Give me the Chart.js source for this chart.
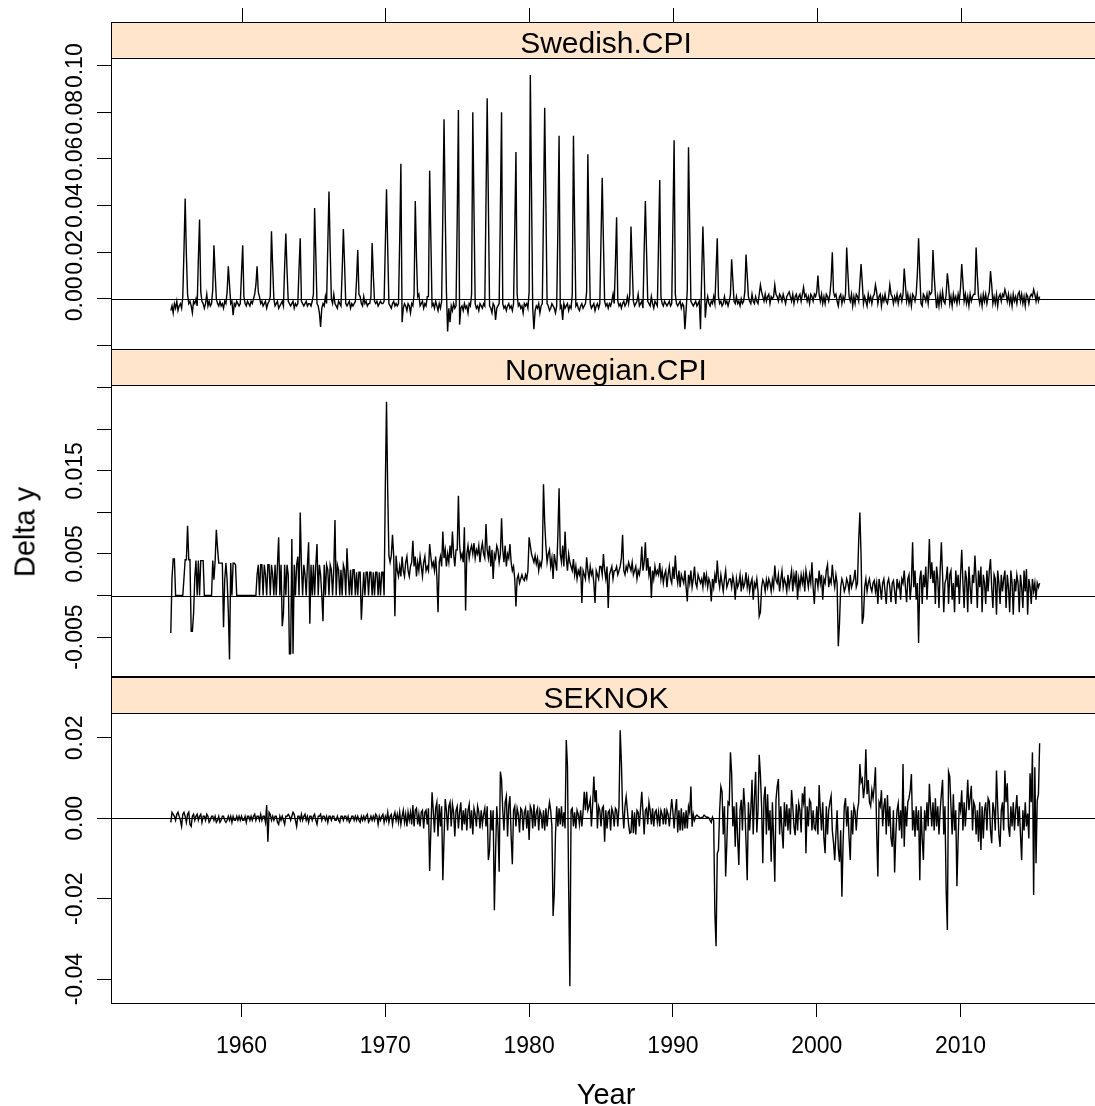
<!DOCTYPE html>
<html>
<head>
<meta charset="utf-8">
<title>Delta y by year</title>
<script src="https://cdn.jsdelivr.net/npm/chart.js@4.4.1/dist/chart.umd.min.js"></script>
<style>
  html, body { margin: 0; padding: 0; background: #fff; overflow: hidden; }
  #wrap { position: relative; width: 1095px; height: 1106px; }
  #wrap canvas { position: absolute; left: 0; top: 0; }
  .axis-title {
    position: absolute;
    font-family: "Liberation Sans", Arial, sans-serif;
    font-size: 29px;
    line-height: 29px;
    color: #000;
    white-space: nowrap;
  }
  #ytitle { left: 25px; top: 532px; transform: translate(-50%, -50%) rotate(-90deg); }
  #xtitle { left: 606px; top: 1094px; transform: translate(-50%, -50%); }
</style>
</head>
<body>
<div id="wrap">
  <canvas id="c1" width="1095" height="1106"></canvas>
  <canvas id="c2" width="1095" height="1106"></canvas>
  <canvas id="c3" width="1095" height="1106"></canvas>
  <div class="axis-title" id="ytitle">Delta y</div>
  <div class="axis-title" id="xtitle">Year</div>
</div>
<script>
// monthly series, one row per year starting Jan 1955
const startYear = 1955;

const swedishCPI = [
  [null, -.005, -.003, -.006, -.002, -.004, -.001, -.005, -.003, -.002, -.004, .001], // 1955
  [.021, .043, .019, .002, -.002, -.001, -.003, -.006, -.001, -.002, 0, -.003],
  [.017, .034, .003, -.001, -.002, -.004, -.002, .002, -.003, -.001, -.003, -.002],
  [.004, .023, .011, 0, -.002, -.003, -.001, -.003, -.002, -.004, -.001, -.002],
  [.003, .014, .006, -.002, -.001, -.007, -.002, -.003, -.001, -.002, -.003, -.002],
  [.011, .023, .001, -.002, -.003, -.001, -.002, -.003, -.001, -.002, 0, .002], // 1960
  [.006, .014, .003, .001, -.002, -.001, -.003, -.002, -.001, -.004, -.002, -.001],
  [.001, .029, .014, 0, -.003, -.002, -.001, -.004, -.003, -.002, -.001, -.003],
  [.014, .028, .012, -.001, -.002, -.003, -.002, -.001, -.004, -.002, -.003, -.002],
  [.013, .026, -.001, -.002, -.003, -.002, -.001, -.003, -.002, -.002, -.003, -.001],
  [.002, .039, .019, -.002, -.003, -.006, -.012, -.004, -.002, -.003, .001, -.002],
  [.023, .046, .021, 0, -.002, .002, -.002, -.003, -.004, -.001, -.002, -.003],
  [.012, .030, .015, -.002, -.003, -.002, -.001, -.004, -.002, -.003, -.002, -.001],
  [.008, .021, .002, .001, -.002, -.003, .001, -.002, -.001, -.003, -.002, -.002],
  [.001, .024, .010, -.001, -.002, -.001, -.003, -.002, -.001, -.002, -.002, -.001],
  [.023, .047, .022, -.002, -.003, -.004, -.002, -.001, -.003, -.002, -.003, -.002], // 1970
  [.025, .058, -.010, -.004, -.002, -.003, -.005, -.002, -.003, -.006, -.002, -.003],
  [.002, .042, .018, .001, .002, -.003, -.002, -.001, -.004, -.002, -.003, .001],
  [.001, .055, .026, -.003, -.002, -.004, -.001, -.003, -.005, -.002, -.004, -.001],
  [.037, .077, .037, .003, -.014, -.004, -.010, -.003, -.005, -.002, -.004, -.003],
  [.034, .081, -.011, -.004, -.003, -.005, -.002, -.004, -.003, -.006, -.002, -.003],
  [.002, .080, .038, -.002, -.004, -.003, -.005, -.002, -.003, -.004, -.002, -.003],
  [.041, .086, .041, -.003, -.004, -.006, -.002, -.003, -.009, -.004, -.003, -.002],
  [.037, .080, -.002, -.004, -.003, -.005, -.003, -.002, -.004, -.003, -.005, -.002],
  [.029, .063, .002, -.003, -.002, -.004, -.003, -.006, -.002, -.003, -.002, -.004],
  [.003, .096, .046, -.004, -.013, -.005, -.003, -.004, -.002, -.006, -.003, -.002], // 1980
  [.038, .082, .041, -.002, -.003, -.005, -.004, -.002, -.003, -.004, -.006, -.003],
  [.030, .070, -.004, -.003, -.009, -.002, -.004, -.003, -.002, -.005, -.003, -.004],
  [.002, .070, .032, -.003, -.002, -.004, -.005, -.003, -.002, -.004, -.003, -.002],
  [.003, .062, .027, -.002, -.004, -.003, -.002, -.005, -.003, -.002, -.004, -.002],
  [.026, .052, .025, -.001, -.003, -.002, -.004, -.002, -.003, -.001, .002, -.002],
  [.015, .035, -.001, -.003, -.002, -.004, -.002, -.001, -.003, -.002, .001, -.002],
  [.002, .031, .015, -.001, -.003, -.002, -.001, .002, -.003, -.002, -.001, -.004],
  [.021, .042, .020, -.001, -.002, -.003, .001, -.002, -.004, -.001, -.002, -.003],
  [.024, .051, .001, -.002, -.003, -.001, -.002, -.003, -.002, -.001, -.003, -.002],
  [.033, .068, .002, -.002, -.003, -.002, -.001, -.004, -.002, -.003, -.013, -.005], // 1990
  [.004, .065, .032, -.001, -.002, -.003, -.002, -.001, -.003, -.002, -.001, -.013],
  [.010, .031, .014, -.008, -.002, .001, -.002, -.003, -.001, -.002, .001, -.002],
  [.012, .026, .001, -.002, -.001, -.003, -.002, .001, -.002, -.001, -.003, -.001],
  [.002, .017, .008, -.001, -.002, .001, -.002, -.001, -.003, 0, -.002, -.001],
  [.003, .019, .010, .001, -.001, -.002, .002, -.001, -.002, .001, -.001, -.002],
  [.002, .006, .003, .001, -.001, .002, -.001, .001, .002, -.002, .001, 0],
  [.001, .006, .002, .001, -.001, .002, .001, -.001, .002, 0, -.002, .001],
  [.002, .003, .001, -.001, .002, -.002, .001, .002, -.001, .001, .002, -.001],
  [.002, .005, .001, .002, -.001, .001, -.002, .002, .001, -.001, .002, .001],
  [.003, .010, .002, -.001, .002, -.002, .001, -.002, .002, .001, -.001, .002], // 2000
  [.008, .020, .003, .001, .002, -.001, -.003, .001, .002, -.002, .001, -.001],
  [.002, .022, .011, .001, -.001, .002, -.003, .001, -.002, .002, .001, -.001],
  [.007, .015, .007, -.002, .001, -.001, -.003, .002, -.001, .001, -.002, .001],
  [.002, .006, .003, -.002, .001, .002, -.003, .001, -.001, .002, -.001, -.002],
  [.001, .006, .002, .001, -.002, .001, -.001, .002, -.002, .001, .002, -.001],
  [.002, .013, .006, -.001, .002, -.002, .001, -.003, .002, .001, -.001, .002],
  [.011, .026, .011, -.002, -.003, .002, .001, -.001, .002, -.002, .003, .002],
  [.003, .021, .010, .002, -.004, .001, -.003, .002, -.002, .003, -.001, -.002],
  [.002, .011, .006, -.002, .001, -.003, .002, -.001, .001, -.002, .002, -.001],
  [.005, .015, .007, -.001, .002, -.002, .001, -.003, .002, -.001, .001, .002], // 2010
  [.002, .022, .010, .001, -.002, .001, -.003, .002, -.001, .002, -.002, .001],
  [.003, .012, .006, -.002, .001, -.002, .002, -.003, .001, .002, -.001, .002],
  [.001, .004, .002, -.001, .002, -.002, .001, -.003, .002, -.001, .001, -.002],
  [.002, .003, -.001, .002, -.002, .001, -.003, .002, .001, -.002, .001, .002],
  [.001, .004, .002, -.001, .002, -.001, .001] // 2015
];

const norwegianCPI = [
  [null, -.0045, .0021, .0044, .0044, 0, 0, 0, 0, 0, 0, 0], // 1955
  [.0021, .0043, .0043, .0084, .0043, .0043, -.0043, -.0043, -.0022, .0021, .0042, 0],
  [.0042, 0, .0042, .0042, .0042, 0, 0, 0, 0, 0, 0, 0],
  [.0042, .0019, .0042, .0079, .0057, .0039, .0039, .0039, .0039, -.0038, .0019, .0039],
  [.0019, -.0019, -.0077, .0039, 0, .0039, .0039, .0037, 0, 0, 0, 0],
  [0, 0, 0, 0, 0, 0, 0, 0, 0, 0, 0, 0], // 1960
  [0, .0025, .0037, 0, .0037, .0037, 0, .0037, .0025, 0, .0037, .0037],
  [0, .0037, .0025, 0, .0037, 0, .0037, .0070, 0, .0037, -.0037, -.0022],
  [.0037, 0, .0037, .0025, -.0070, -.0070, .0068, -.0070, .0037, 0, .0037, .0047],
  [0, .0100, .0037, 0, .0037, .0025, 0, .0037, .0064, -.0034, .0037, 0],
  [.0037, 0, .0037, .0062, 0, .0037, .0025, 0, -.0031, .0037, 0, .0037],
  [.0031, 0, .0037, .0031, 0, .0031, .0091, 0, .0037, .0031, 0, .0031],
  [0, .0037, .0031, 0, .0057, .0025, 0, .0031, 0, .0031, .0031, 0],
  [.0028, 0, .0028, .0028, -.0029, 0, .0028, 0, .0028, .0028, 0, .0028],
  [.0028, 0, .0028, 0, .0028, .0028, 0, .0028, 0, .0028, .0028, 0],
  [.0129, .0233, .0126, .0048, .0040, .0048, .0073, .0048, -.0025, .0048, .0030, .0023], // 1970
  [.0035, .0023, .0047, .0030, .0023, .0040, .0047, .0030, .0023, .0035, .0040, .0066],
  [.0035, .0047, .0023, .0040, .0030, .0047, .0035, .0023, .0040, .0047, .0030, .0035],
  [.0030, .0062, .0047, .0035, .0040, .0030, .0047, .0023, -.0020, .0040, .0047, .0035],
  [.0077, .0045, .0055, .0035, .0050, .0040, .0060, .0045, .0077, .0050, .0035, .0055],
  [.0055, .0120, .0060, .0045, .0050, .0040, .0082, -.0018, .0050, .0060, .0045, .0055],
  [.0060, .0050, .0063, .0045, .0055, .0050, .0060, .0040, .0055, .0063, .0050, .0045],
  [.0086, .0055, .0045, .0060, .0035, .0055, .0020, .0050, .0045, .0060, .0055, .0040],
  [.0050, .0093, .0055, .0040, .0060, .0035, .0050, .0045, .0062, .0040, .0030, .0035],
  [.0020, -.0013, .0020, .0025, .0015, .0020, .0025, .0020, .0018, .0025, .0020, .0030],
  [.0070, .0060, .0050, .0045, .0040, .0048, .0038, .0045, .0030, .0040, .0035, .0045], // 1980
  [.0134, .0088, .0060, .0040, .0050, .0055, .0035, .0045, .0020, .0050, .0040, .0030],
  [.0073, .0129, .0050, .0040, .0060, .0035, .0077, .0045, .0030, .0050, .0040, .0035],
  [.0030, .0044, .0025, .0035, .0020, .0030, .0025, .0035, -.0009, .0030, .0025, .0020],
  [.0046, .0030, .0020, .0035, .0025, .0030, .0015, -.0009, .0030, .0025, .0020, .0035],
  [.0035, .0025, .0050, .0030, .0020, .0035, -.0015, .0025, .0030, .0035, .0020, .0030],
  [.0030, .0035, .0025, .0030, .0035, .0045, .0073, .0030, .0025, .0035, .0030, .0040],
  [.0035, .0030, .0040, .0025, .0030, .0035, .0020, .0030, .0025, .0035, .0059, .0030],
  [.0040, .0064, .0030, .0045, .0025, .0035, -.0003, .0030, .0020, .0035, .0025, .0030],
  [.0025, .0039, .0020, .0030, .0015, .0025, .0030, .0010, .0025, .0035, .0020, .0015],
  [.0035, .0020, .0048, .0025, .0015, .0030, .0010, .0025, .0020, .0015, .0030, .0010], // 1990
  [-.0007, .0025, .0015, .0030, .0010, .0020, .0035, .0015, .0010, .0025, .0020, .0015],
  [.0020, .0010, .0028, .0015, .0025, .0010, .0020, .0015, -.0007, .0020, .0010, .0025],
  [.0015, .0042, .0020, .0010, .0025, .0015, .0005, .0020, .0030, .0010, .0015, .0020],
  [.0020, .0010, .0023, .0015, -.0005, .0020, .0010, .0015, .0025, .0005, .0020, .0010],
  [.0015, .0028, .0010, .0020, .0005, .0015, .0020, -.0005, .0015, .0010, .0020, .0005],
  [-.0025, -.0020, .0010, .0019, .0015, .0005, .0019, .0010, .0020, .0015, .0005, .0019],
  [.0010, .0036, .0019, .0015, .0025, .0005, .0019, .0030, .0010, .0020, .0015, .0005],
  [.0025, .0010, .0020, .0030, .0005, .0025, .0015, .0030, -.0005, .0020, .0010, .0025],
  [.0015, .0025, .0005, .0030, .0020, .0010, .0025, .0015, .0040, .0010, -.0010, .0020],
  [.0020, .0010, .0030, .0015, .0025, -.0005, .0020, .0015, .0030, .0037, .0010, .0020], // 2000
  [.0015, .0037, .0020, .0010, .0025, .0015, -.0061, -.0033, .0010, .0020, .0015, .0005],
  [.0010, .0020, .0015, .0005, .0025, .0010, .0015, .0020, .0031, .0010, .0015, .0066],
  [.0100, .0048, -.0034, -.0025, .0010, .0020, .0005, .0015, .0020, .0010, .0005, .0015],
  [.0018, .0005, .0015, -.0010, .0020, .0010, -.0005, .0015, .0020, .0005, -.0010, .0015],
  [.0020, .0010, -.0008, .0015, .0018, .0005, -.0010, .0020, .0010, .0015, -.0005, .0020],
  [.0015, .0030, .0010, -.0008, .0020, .0025, -.0005, .0015, .0064, .0010, .0030, -.0005],
  [.0015, -.0057, .0020, .0030, -.0010, .0025, .0010, .0035, -.0005, .0025, .0068, .0020],
  [.0040, .0015, .0030, -.0010, .0035, .0020, -.0015, .0030, .0064, .0025, -.0020, .0015],
  [.0020, .0035, -.0010, .0025, .0030, -.0005, .0015, -.0020, .0030, .0010, .0025, -.0010],
  [.0025, .0055, .0015, -.0015, .0030, .0020, -.0020, .0035, .0010, -.0010, .0025, .0015], // 2010
  [.0048, .0020, -.0015, .0030, .0010, .0035, -.0020, .0025, .0015, -.0010, .0030, .0005],
  [.0030, .0044, .0010, -.0015, .0025, .0020, -.0023, .0030, .0015, -.0010, .0025, .0005],
  [.0020, .0030, -.0015, .0025, .0010, -.0020, .0030, .0015, -.0023, .0020, .0005, .0025],
  [.0015, -.0020, .0025, .0010, -.0015, .0030, .0005, .0032, -.0023, .0020, .0010, -.0010],
  [.0020, .0005, .0015, -.0005, .0015, .0010, .0015] // 2015
];

const seknok = [
  [null, -.001, .0015, .001, .0005, -.0005, .001, .0015, .0005, -.0005, -.002, .001], // 1955
  [.0015, .0005, -.001, .001, .0015, -.0015, -.002, .0005, .001, -.0005, .0005, .001],
  [-.0005, .0005, .001, -.001, .0005, .0005, -.0005, .001, .0005, -.001, -.0005, .0005],
  [.0005, -.0005, .0005, -.001, -.0005, .0005, -.001, -.0005, .0005, .0005, -.0005, -.001],
  [-.0005, .0005, -.0005, .0005, -.001, .0005, -.0005, -.0005, .0005, -.0005, .0005, -.0005],
  [.0005, -.0005, -.0005, .0005, -.001, .0005, .0005, -.0005, .0005, -.0005, .0005, .001], // 1960
  [-.0005, .0005, .0005, -.0005, .001, -.0005, .0005, .0005, -.001, .0033, -.0058, .0015],
  [.001, -.0005, .0005, -.0005, .0005, .0005, -.001, -.0015, .0005, -.0005, .0005, -.0005],
  [-.0015, .0005, .0005, .001, .0005, -.0005, .0005, .0015, .001, -.0005, -.002, .0005],
  [.0005, -.0005, .001, -.0005, .0005, .001, -.0005, .0005, -.001, .0005, .0005, -.0005],
  [.0005, .001, -.0005, -.0015, .0005, .0005, .001, -.0005, .0005, .0005, -.0005, .0005],
  [-.001, .0005, .0005, -.0005, .0005, .0005, -.0005, -.0005, .0005, -.0005, -.001, .0005],
  [.0005, -.0005, .0005, .0005, -.0005, .0005, -.001, -.0005, .0005, .0005, -.0005, .0005],
  [-.0005, .0005, -.0005, -.001, .0005, -.0005, .0005, -.0005, .0005, .001, -.001, -.0005],
  [.0005, -.0005, .0005, -.0005, .001, .0005, -.0015, .0005, -.0005, .0005, .001, -.001],
  [.0005, -.0005, .0015, -.001, .0005, .001, -.0015, .0005, .0015, -.0005, .001, -.001], // 1970
  [.0015, -.0015, .0005, .002, -.001, .001, -.002, .0015, -.0005, .0015, -.0015, .0033],
  [-.002, .002, .0025, -.0015, .001, -.002, .0015, .002, -.0025, .0015, .002, -.0015],
  [.0025, -.0131, -.003, .0065, .002, -.0035, .0025, .004, -.0045, .0035, -.002, .003],
  [-.0154, -.005, .0048, .002, -.003, .003, .004, -.002, .0035, .0015, -.0045, .002],
  [.003, -.0025, .0015, .004, -.003, .002, -.0015, .0025, -.003, .002, .0035, -.0025],
  [.002, -.004, .0025, .001, -.002, .003, .0015, -.0025, .002, -.0015, .001, .0025],
  [-.002, .003, -.0104, -.008, .002, -.003, .002, -.0229, -.0087, .003, -.002, -.0133],
  [.0116, .0096, .002, -.003, .004, .0055, -.0045, .003, .0055, -.0045, -.0114, .002],
  [.003, -.002, .0025, .001, -.0035, .0025, .002, -.003, .0015, .0025, -.0025, .002],
  [-.0054, .003, .002, -.0025, .0035, -.002, .0015, .0025, -.003, .002, .001, -.0025], // 1980
  [.002, -.003, .0025, -.002, .0015, .004, .002, -.002, -.0243, -.0187, -.004, .003],
  [-.002, .0025, -.0015, .003, -.002, .0015, -.0025, .0195, .013, -.0175, -.0418, .002],
  [.0025, -.002, .0015, -.0025, .002, .001, -.0015, .002, -.002, .0015, .0066, .002],
  [.0066, .002, .003, .0046, -.002, .0035, .0104, .004, .007, -.0025, .003, .002],
  [-.002, .0025, .003, -.0058, .002, -.0025, .0015, .002, -.003, .0025, .0015, -.002],
  [.0025, .002, -.002, .003, .0219, .0139, .002, -.0025, .003, .0054, .002, -.0015],
  [-.0037, -.0035, .002, -.0037, .0015, -.004, .002, .0015, -.002, .0025, .0066, .0015],
  [-.004, .002, .0025, -.0015, .004, .002, -.0015, .0025, -.002, .0015, .002, -.001],
  [.0015, -.002, .002, .001, -.0015, .0025, -.0015, .002, .001, -.002, .0015, .0048],
  [.0015, -.0025, .002, .0048, -.0035, .002, -.003, .0025, -.003, .0015, -.0025, .002], // 1990
  [-.0025, .0029, .0015, .0079, -.0021, .001, -.0005, .0005, .0008, .0005, .0003, 0],
  [.0002, .0003, .0008, .0005, .0002, .0003, .0001, -.0005, -.001, .0003, -.0005, -.0237],
  [-.0318, -.0087, -.0079, .002, .0079, .0066, -.004, .003, -.0145, -.006, .004, .0035],
  [.0164, .0112, -.002, .003, -.0071, .004, -.005, -.0116, .002, .0046, -.003, .0075],
  [.003, -.006, -.0154, .004, -.003, .002, .0096, -.004, .005, .0116, -.0035, .002],
  [.0158, .0108, .003, -.0112, .005, .0079, -.004, .006, -.003, .002, -.0108, .004],
  [-.005, -.0158, .0046, .0079, .0098, -.004, .003, -.003, -.0075, .004, -.002, .0035],
  [-.003, .0025, -.004, .007, .003, -.002, -.0042, .0035, -.003, .0037, .002, -.0035],
  [.0062, .004, .0079, -.0087, .003, -.002, .0046, .0039, -.003, .002, -.0025, -.0029],
  [.003, -.004, .0083, .002, -.003, .004, -.005, -.0087, .003, -.004, .002, .004], // 2000
  [.0056, -.003, -.006, -.0104, -.004, .002, -.0075, -.0108, -.003, -.0195, -.006, .003],
  [.005, -.002, .003, -.005, -.0104, .002, -.004, .003, .0017, -.003, .002, .004],
  [.0135, .009, .0098, .005, .008, .0172, .006, .0095, .004, .003, .007, .005],
  [.008, .0127, -.003, -.0145, .004, .003, .007, -.002, .003, .005, -.004, .0058],
  [-.002, .003, -.005, -.0071, .002, -.0135, -.004, .002, .0037, -.003, .002, -.005],
  [.0135, -.0071, .003, -.002, .004, .005, .007, .011, -.003, .002, -.0046, .003],
  [-.003, .002, -.0154, .003, -.005, -.0104, .002, -.003, .004, -.002, .0086, .003],
  [-.002, .004, -.003, .005, -.002, .003, -.004, .002, .006, .0096, -.004, .003],
  [-.0179, -.0278, .0116, .0104, .003, -.004, .006, -.003, .002, -.0169, -.005, .004],
  [.002, .007, -.003, .004, -.002, .003, .0096, .002, .005, .0081, -.003, .004], // 2010
  [.003, -.004, .002, -.0058, .004, -.0079, .003, -.005, .002, .004, -.003, .005],
  [.0042, -.003, -.0062, .004, .002, -.003, .0119, .003, -.004, -.0071, .002, .004],
  [-.003, .0119, .004, .0087, -.002, -.0046, .003, -.002, .004, -.003, .002, .0058],
  [-.002, .003, -.004, -.0104, .002, -.003, .004, -.002, .0012, -.005, .0112, .004],
  [.0164, -.0191, .0127, -.0112, .0045, .006, .0187] // 2015
];

// axis ticks and labels
const yearTicks = [1960, 1970, 1980, 1990, 2000, 2010];
const swedishTicks = [-0.02, 0, 0.02, 0.04, 0.06, 0.08, 0.10];
const swedishLabels = ['', '0.00', '0.02', '0.04', '0.06', '0.08', '0.10'];
const norwegianTicks = [-0.005, 0, 0.005, 0.01, 0.015, 0.02, 0.025];
const norwegianLabels = ['-0.005', '', '0.005', '', '0.015', '', ''];
const seknokTicks = [-0.04, -0.02, 0, 0.02];
const seknokLabels = ['-0.04', '-0.02', '0.00', '0.02'];

// layout of the lattice (page pixels)
const PAGE_H = 1106;
const AXIS_W = 111;
const PANEL_RIGHT = 1101;   // lattice panel edge, a bit past the window
const STRIP_H = 36;
const X_MIN = 1950.925, X_MAX = 2019.35;
const FONT = '"Liberation Sans", Arial, sans-serif';

function toPoints(rows) {
  const pts = [];
  rows.forEach((row, yi) => {
    row.forEach((v, m) => {
      pts.push({ x: startYear + yi + m / 12, y: v });
    });
  });
  return pts;
}

const latticePanel = {
  id: 'latticePanel',
  beforeDatasetsDraw(chart, args, opts) {
    const { ctx, chartArea: a } = chart;
    const y0 = Math.round(chart.scales.y.getPixelForValue(0)) + 0.5;
    ctx.save();
    ctx.strokeStyle = '#000';
    ctx.lineWidth = 1;
    ctx.beginPath();
    ctx.moveTo(a.left, y0);
    ctx.lineTo(a.right, y0);
    ctx.stroke();
    ctx.restore();
  },
  afterDraw(chart, args, opts) {
    const { ctx, chartArea: a } = chart;
    const stripTop = a.top - STRIP_H;
    const w = a.right - a.left + 20;
    ctx.save();
    // strip
    ctx.fillStyle = '#ffe5cc';
    ctx.fillRect(a.left, stripTop, w, STRIP_H);
    ctx.strokeStyle = '#000';
    ctx.lineWidth = 1;
    ctx.strokeRect(a.left + 0.5, stripTop + 0.5, w, STRIP_H);
    ctx.fillStyle = '#000';
    ctx.font = '30px ' + FONT;
    ctx.textAlign = 'center';
    ctx.textBaseline = 'alphabetic';
    ctx.fillText(opts.title, (a.left + PANEL_RIGHT) / 2, a.top - 5);
    // panel frame
    ctx.strokeRect(a.left + 0.5, a.top + 0.5, w, a.bottom - a.top - 1);
    // rotated y tick labels
    ctx.font = '23px ' + FONT;
    opts.labels.forEach((lab, i) => {
      if (!lab) return;
      const py = chart.scales.y.getPixelForValue(opts.ticks[i]);
      ctx.save();
      ctx.translate(82, py);
      ctx.rotate(-Math.PI / 2);
      ctx.fillText(lab, 0, 0);
      ctx.restore();
    });
    // tick marks above the top strip
    if (opts.topTicks) {
      yearTicks.forEach(yr => {
        const px = Math.round(chart.scales.x.getPixelForValue(yr)) + 0.5;
        ctx.beginPath();
        ctx.moveTo(px, stripTop - 14);
        ctx.lineTo(px, stripTop);
        ctx.stroke();
      });
    }
    ctx.restore();
  }
};

function makePanel(canvasId, title, rows, yMin, yMax, ticks, labels, top, bottom, opts) {
  const showX = opts.showX;
  return new Chart(document.getElementById(canvasId), {
    type: 'line',
    data: {
      datasets: [{
        data: toPoints(rows),
        borderColor: '#000',
        borderWidth: 1.4,
        pointRadius: 0,
        tension: 0,
        spanGaps: false
      }]
    },
    options: {
      responsive: false,
      animation: false,
      events: [],
      layout: { padding: { top: top, bottom: showX ? 0 : PAGE_H - bottom, left: 0, right: 0 } },
      scales: {
        x: {
          type: 'linear',
          display: showX,
          min: X_MIN,
          max: X_MAX,
          afterBuildTicks: s => { s.ticks = yearTicks.map(v => ({ value: v })); },
          afterFit: s => { s.height = showX ? PAGE_H - bottom : 0; },
          grid: { drawOnChartArea: false, drawTicks: true, tickLength: 13, tickColor: '#000', tickWidth: 1 },
          border: { display: false },
          ticks: {
            color: '#000',
            font: { family: FONT, size: 23 },
            padding: 16,
            maxRotation: 0,
            callback: v => String(v)
          }
        },
        y: {
          type: 'linear',
          min: yMin,
          max: yMax,
          afterBuildTicks: s => { s.ticks = ticks.map(v => ({ value: v })); },
          afterFit: s => { s.width = AXIS_W; },
          grid: { drawOnChartArea: false, drawTicks: true, tickLength: 14, tickColor: '#000', tickWidth: 1 },
          border: { display: false },
          ticks: { display: false }
        }
      },
      plugins: {
        legend: { display: false },
        tooltip: { enabled: false },
        latticePanel: { title: title, ticks: ticks, labels: labels, topTicks: opts.topTicks }
      }
    },
    plugins: [latticePanel]
  });
}

makePanel('c1', 'Swedish.CPI', swedishCPI, -0.0219, 0.1033, swedishTicks, swedishLabels, 58, 350, { showX: false, topTicks: true });
makePanel('c2', 'Norwegian.CPI', norwegianCPI, -0.0098, 0.02533, norwegianTicks, norwegianLabels, 385, 677, { showX: false, topTicks: false });
makePanel('c3', 'SEKNOK', seknok, -0.0462, 0.0262, seknokTicks, seknokLabels, 713, 1004, { showX: true, topTicks: false });
</script>
</body>
</html>
